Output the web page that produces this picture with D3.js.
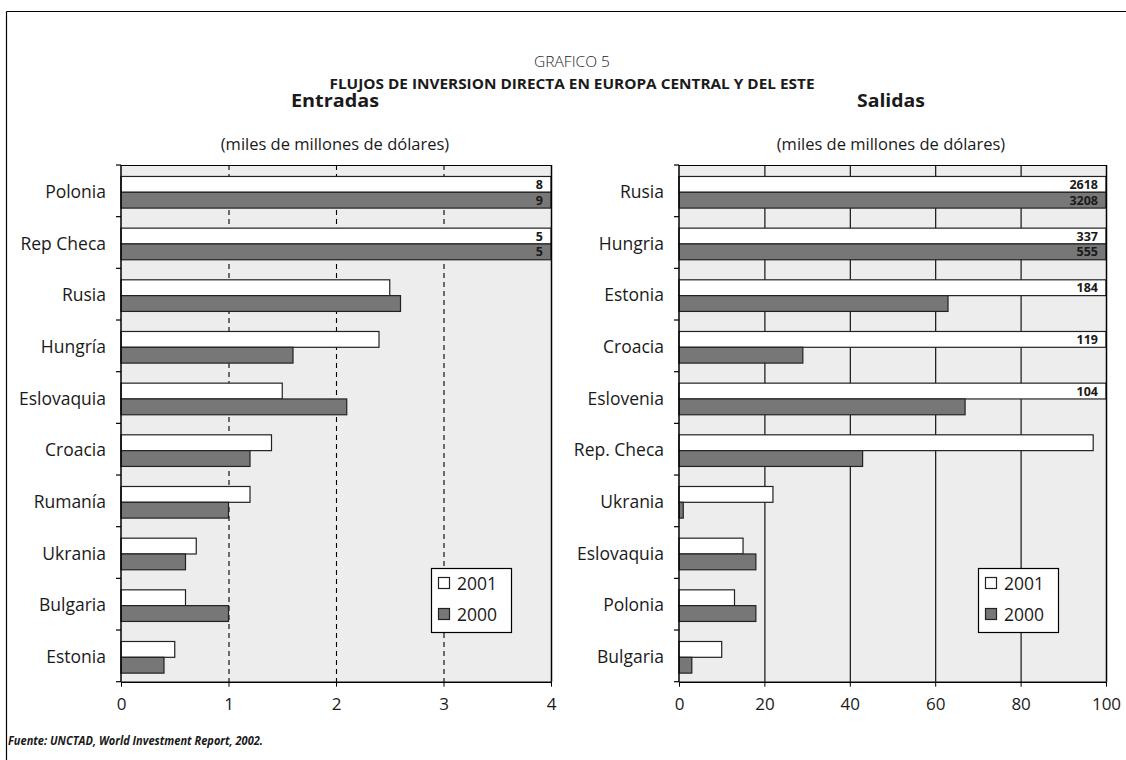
<!DOCTYPE html>
<html><head><meta charset="utf-8">
<script src="https://cdn.jsdelivr.net/npm/d3@7"></script>
<style>
body{margin:0;background:#fff}
text{font-family:"Open Sans","Noto Sans",sans-serif;fill:#1a1a1a}
</style>
</head><body>
<svg id="c" width="1126" height="760"></svg>
<script>
// ---- data ----
const entradasCategories = ["Polonia","Rep Checa","Rusia","Hungría","Eslovaquia","Croacia","Rumanía","Ukrania","Bulgaria","Estonia"];
const entradas2001 = [8, 5, 2.5, 2.4, 1.5, 1.4, 1.2, 0.7, 0.6, 0.5];
const entradas2000 = [9, 5, 2.6, 1.6, 2.1, 1.2, 1.0, 0.6, 1.0, 0.4];
const entradasTicks = [0, 1, 2, 3, 4];

const salidasCategories = ["Rusia","Hungria","Estonia","Croacia","Eslovenia","Rep. Checa","Ukrania","Eslovaquia","Polonia","Bulgaria"];
const salidas2001 = [2618, 337, 184, 119, 104, 97, 22, 15, 13, 10];
const salidas2000 = [3208, 555, 63, 29, 67, 43, 1, 18, 18, 3];
const salidasTicks = [0, 20, 40, 60, 80, 100];

const seriesNames = ["2001", "2000"];
const seriesFills = ["#ffffff", "#777777"];

const svg = d3.select("#c");

// frame
svg.append("line").attr("x1",6.5).attr("y1",11.5).attr("x2",1126).attr("y2",11.5).attr("stroke","#000").attr("stroke-width",1.2);
svg.append("line").attr("x1",6.5).attr("y1",11.5).attr("x2",6.5).attr("y2",760).attr("stroke","#000").attr("stroke-width",1.2);

// titles
svg.append("text").attr("x",572).attr("y",61).attr("text-anchor","middle").attr("dominant-baseline","central")
  .style("font-size","15px").style("font-weight","300").attr("textLength",76).attr("lengthAdjust","spacingAndGlyphs").text("GRAFICO 5");
svg.append("text").attr("x",572).attr("y",83).attr("text-anchor","middle").attr("dominant-baseline","central")
  .style("font-size","14.5px").style("font-weight","700").attr("textLength",485).attr("lengthAdjust","spacingAndGlyphs")
  .text("FLUJOS DE INVERSION DIRECTA EN EUROPA CENTRAL Y DEL ESTE");

svg.append("text").attr("x",8).attr("y",740).attr("dominant-baseline","central")
  .style("font-size","11.5px").style("font-weight","700").style("font-style","italic")
  .attr("textLength",255).attr("lengthAdjust","spacingAndGlyphs")
  .text("Fuente: UNCTAD, World Investment Report, 2002.");

function panel(o){
  const top = 165, bottom = 681.7;
  const max = o.ticks[o.ticks.length-1];
  const x = d3.scaleLinear().domain([0, max]).range([o.x0, o.x1]);
  const y = d3.scaleBand().domain(o.cats).range([top, bottom]).padding(0);
  const bw = y.bandwidth();
  const inner = d3.scaleBand().domain(seriesNames).range([bw*0.222, bw*0.834]).padding(0);
  const g = svg.append("g");

  g.append("text").attr("x",o.cx).attr("y",100).attr("text-anchor","middle").attr("dominant-baseline","central")
    .style("font-size","17px").style("font-weight","700").attr("textLength",o.tw).attr("lengthAdjust","spacingAndGlyphs").text(o.title);
  g.append("text").attr("x",o.cx).attr("y",143).attr("text-anchor","middle").attr("dominant-baseline","central")
    .style("font-size","16.5px").text("(miles de millones de dólares)");

  g.append("rect").attr("x",o.x0).attr("y",top).attr("width",o.x1-o.x0).attr("height",bottom-top).attr("fill","#ededed");

  g.selectAll("line.grid").data(o.ticks.slice(1,-1)).join("line").attr("class","grid")
    .attr("x1",d=>x(d)+0.5).attr("x2",d=>x(d)+0.5).attr("y1",top).attr("y2",bottom)
    .attr("stroke","#000").attr("stroke-width",1.1)
    .attr("stroke-dasharray", o.dashed ? "5,4" : null);

  const data = [];
  o.cats.forEach((c,i)=>{
    data.push({cat:c, s:"2001", v:o.s2001[i], fill:seriesFills[0]});
    data.push({cat:c, s:"2000", v:o.s2000[i], fill:seriesFills[1]});
  });
  g.selectAll("rect.bar").data(data).join("rect").attr("class","bar")
    .attr("x",o.x0).attr("y",d=>y(d.cat)+inner(d.s))
    .attr("width",d=>x(Math.min(d.v,max))-o.x0).attr("height",inner.bandwidth())
    .attr("fill",d=>d.fill).attr("stroke","#222").attr("stroke-width",1.2);

  g.selectAll("text.val").data(data.filter(d=>d.v>max)).join("text").attr("class","val")
    .attr("x",o.x1-8).attr("y",d=>y(d.cat)+inner(d.s)+inner.bandwidth()/2)
    .attr("text-anchor","end").attr("dominant-baseline","central")
    .style("font-size","12.5px").style("font-weight","700").text(d=>d.v);

  // top & right border
  g.append("line").attr("x1",o.x0).attr("x2",o.x1+0.5).attr("y1",top+0.5).attr("y2",top+0.5).attr("stroke","#000").attr("stroke-width",1.2);
  g.append("line").attr("x1",o.x1+0.5).attr("x2",o.x1+0.5).attr("y1",top).attr("y2",bottom).attr("stroke","#000").attr("stroke-width",1.5);

  // x axis
  const ax = g.append("g").attr("transform",`translate(0,${bottom})`)
    .call(d3.axisBottom(x).tickValues(o.ticks).tickSize(5).tickSizeOuter(0).tickPadding(11).tickFormat(d3.format("d")));
  ax.select(".domain").attr("stroke","#000").attr("stroke-width",1.5);
  ax.selectAll(".tick line").attr("stroke","#000");
  ax.selectAll(".tick text").style("font-size","17px").style("font-family","'Open Sans',sans-serif").attr("fill","#1a1a1a");

  // y axis line + boundary ticks
  g.append("line").attr("x1",o.x0).attr("x2",o.x0).attr("y1",top).attr("y2",bottom).attr("stroke","#000").attr("stroke-width",1.5);
  const bounds = o.cats.map(c=>y(c)).concat([bottom]);
  g.selectAll("line.yt").data(bounds).join("line").attr("class","yt")
    .attr("x1",o.x0-5).attr("x2",o.x0).attr("y1",d=>d).attr("y2",d=>d).attr("stroke","#000").attr("stroke-width",1.2);
  g.selectAll("text.cat").data(o.cats).join("text").attr("class","cat")
    .attr("x",o.x0-15).attr("y",d=>y(d)+bw/2).attr("text-anchor","end").attr("dominant-baseline","central")
    .style("font-size","17.5px").text(d=>d);

  // legend
  const lg = g.append("g").attr("transform",`translate(${o.lx},568)`);
  lg.append("rect").attr("x",0.5).attr("y",0.5).attr("width",80).attr("height",64).attr("fill","#fff").attr("stroke","#000").attr("stroke-width",1.2);
  seriesNames.forEach((s,i)=>{
    lg.append("rect").attr("x",7.5).attr("y",9.5+i*31).attr("width",11).attr("height",11).attr("fill",seriesFills[i]).attr("stroke","#222").attr("stroke-width",1.2);
    lg.append("text").attr("x",26).attr("y",15+i*31).attr("dominant-baseline","central").style("font-size","17.5px").text(s);
  });
}

panel({cats:entradasCategories, s2001:entradas2001, s2000:entradas2000, ticks:entradasTicks,
  x0:121, x1:551, dashed:true, title:"Entradas", cx:335, tw:88, lx:431});
panel({cats:salidasCategories, s2001:salidas2001, s2000:salidas2000, ticks:salidasTicks,
  x0:679, x1:1106, dashed:false, title:"Salidas", cx:891, tw:68, lx:978});
</script>
</body></html>
